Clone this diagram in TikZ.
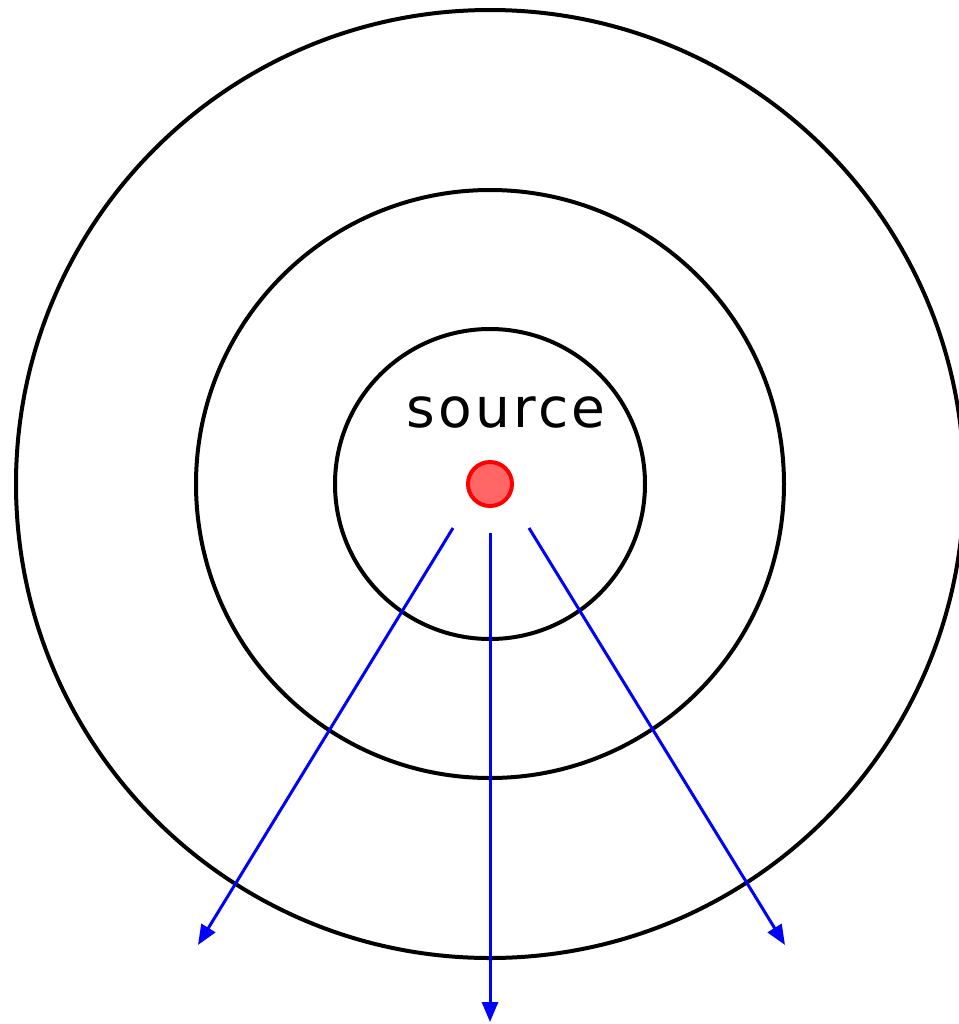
\documentclass[tikz,border=0pt]{standalone}
\usepackage{fontspec}
\setmainfont{DejaVu Sans}
\usepackage{xcolor}
\usetikzlibrary{arrows.meta,positioning}
\definecolor{dotfill}{HTML}{FF6666}
\definecolor{raycol}{HTML}{0000FF}

\begin{document}
\begin{tikzpicture}[
    x=0.5pt, y=-0.5pt,
    wave/.style={draw=black, line width=2pt},
    ray/.style={draw=raycol, line width=1.5pt, -{Triangle[length=10pt,width=8pt]}},
    srcdot/.style={circle, draw=red, fill=dotfill, line width=2pt, minimum size=22pt, inner sep=0pt}
]
\useasboundingbox (0,0) rectangle (959,1024);
\coordinate (c) at (490,484);

% wave fronts
\draw[wave] (c) circle (155);
\draw[wave] (c) circle (294);
\draw[wave] (c) circle (474);

\node[srcdot] (src) at (c) {};
\node[anchor=base, font=\fontsize{27.5pt}{30pt}\selectfont\addfontfeature{LetterSpace=6}] (lbl) at (506,427) {source};

% rays
\coordinate (r1a) at (453,528);
\coordinate (r1b) at (198,945);
\coordinate (r2a) at (490,533);
\coordinate (r2b) at (490,1022);
\coordinate (r3a) at (529,528);
\coordinate (r3b) at (785,945);
\draw[ray] (r1a) -- (r1b);
\draw[ray] (r2a) -- (r2b);
\draw[ray] (r3a) -- (r3b);
\end{tikzpicture}
\end{document}
